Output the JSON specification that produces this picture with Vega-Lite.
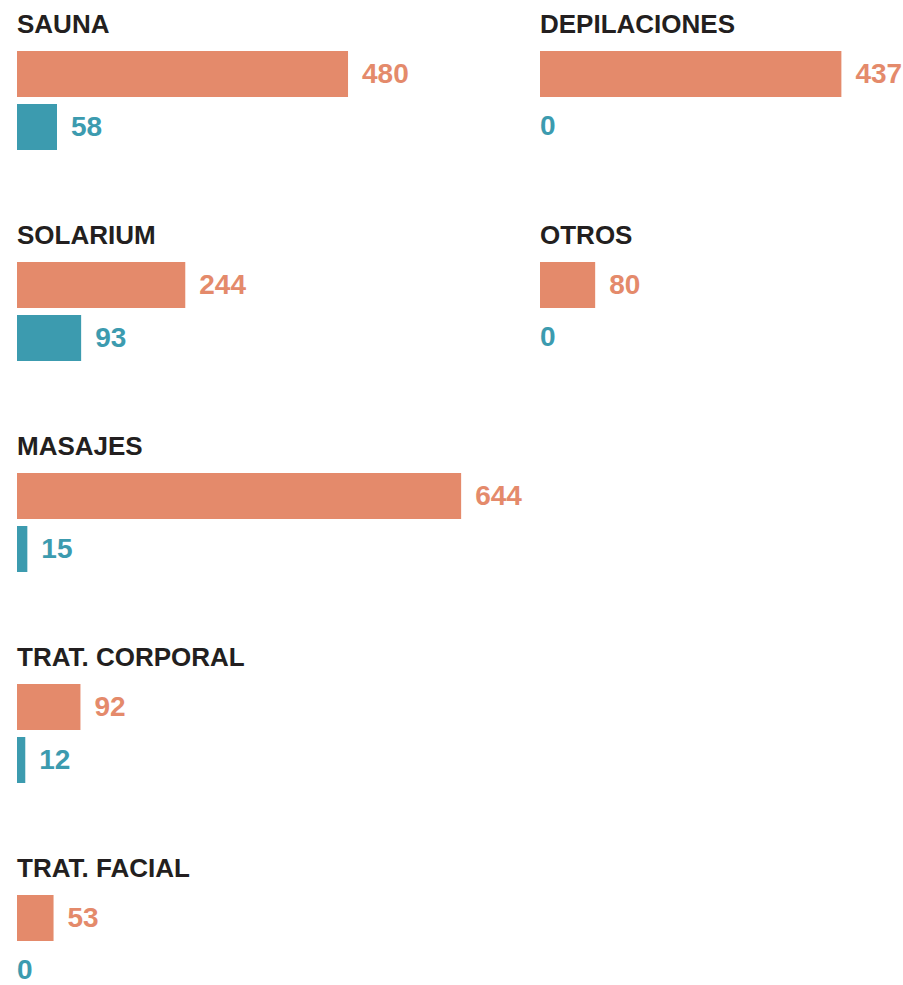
{
  "$schema": "https://vega.github.io/schema/vega-lite/v6.json",
  "padding": {"left": 17, "top": 0, "right": 0, "bottom": 0},
  "background": "white",
  "data": {
    "values": [
      {"cat": "SAUNA", "r": 1, "c": 1, "s": "a", "v": 480},
      {"cat": "SAUNA", "r": 1, "c": 1, "s": "b", "v": 58},
      {"cat": "DEPILACIONES", "r": 1, "c": 2, "s": "a", "v": 437},
      {"cat": "DEPILACIONES", "r": 1, "c": 2, "s": "b", "v": 0},
      {"cat": "SOLARIUM", "r": 2, "c": 1, "s": "a", "v": 244},
      {"cat": "SOLARIUM", "r": 2, "c": 1, "s": "b", "v": 93},
      {"cat": "OTROS", "r": 2, "c": 2, "s": "a", "v": 80},
      {"cat": "OTROS", "r": 2, "c": 2, "s": "b", "v": 0},
      {"cat": "MASAJES", "r": 3, "c": 1, "s": "a", "v": 644},
      {"cat": "MASAJES", "r": 3, "c": 1, "s": "b", "v": 15},
      {"cat": "TRAT. CORPORAL", "r": 4, "c": 1, "s": "a", "v": 92},
      {"cat": "TRAT. CORPORAL", "r": 4, "c": 1, "s": "b", "v": 12},
      {"cat": "TRAT. FACIAL", "r": 5, "c": 1, "s": "a", "v": 53},
      {"cat": "TRAT. FACIAL", "r": 5, "c": 1, "s": "b", "v": 0}
    ]
  },
  "facet": {
    "row": {"field": "r", "type": "ordinal", "header": null},
    "column": {"field": "c", "type": "ordinal", "header": null}
  },
  "spacing": {"row": 61, "column": 43},
  "bounds": "flush",
  "spec": {
    "width": 480,
    "height": 150,
    "encoding": {
      "y": {
        "field": "s",
        "type": "nominal",
        "scale": {"domain": ["t", "a", "b"], "range": [-2, 150], "paddingInner": 0.132, "paddingOuter": 0},
        "axis": null
      }
    },
    "layer": [
      {
        "mark": {"type": "bar"},
        "encoding": {
          "x": {"field": "v", "type": "quantitative", "scale": {"domain": [0, 696], "nice": false}, "axis": null},
          "color": {"field": "s", "type": "nominal", "scale": {"domain": ["a", "b"], "range": ["#E48A6B", "#3C9BAF"]}, "legend": null}
        }
      },
      {
        "transform": [{"filter": "datum.v > 0"}],
        "mark": {"type": "text", "align": "left", "baseline": "middle", "dx": 14, "dy": 1, "font": "Liberation Sans", "fontSize": 28, "fontWeight": "bold"},
        "encoding": {
          "x": {"field": "v", "type": "quantitative", "scale": {"domain": [0, 696], "nice": false}, "axis": null},
          "text": {"field": "v", "type": "quantitative"},
          "color": {"field": "s", "type": "nominal", "legend": null}
        }
      },
      {
        "transform": [{"filter": "datum.v == 0"}],
        "mark": {"type": "text", "align": "left", "baseline": "middle", "dx": 0, "dy": 0, "font": "Liberation Sans", "fontSize": 28, "fontWeight": "bold"},
        "encoding": {
          "x": {"field": "v", "type": "quantitative", "scale": {"domain": [0, 696], "nice": false}, "axis": null},
          "text": {"field": "v", "type": "quantitative"},
          "color": {"field": "s", "type": "nominal", "legend": null}
        }
      },
      {
        "transform": [{"filter": "datum.s == 'a'"}],
        "mark": {"type": "text", "align": "left", "baseline": "middle", "dy": 4, "font": "Liberation Sans", "fontSize": 26, "fontWeight": "bold", "color": "#231F20"},
        "encoding": {
          "x": {"datum": 0, "type": "quantitative", "scale": {"domain": [0, 696], "nice": false}, "axis": null},
          "y": {"datum": "t", "type": "nominal"},
          "text": {"field": "cat", "type": "nominal"}
        }
      }
    ]
  },
  "config": {"view": {"stroke": null}}
}
